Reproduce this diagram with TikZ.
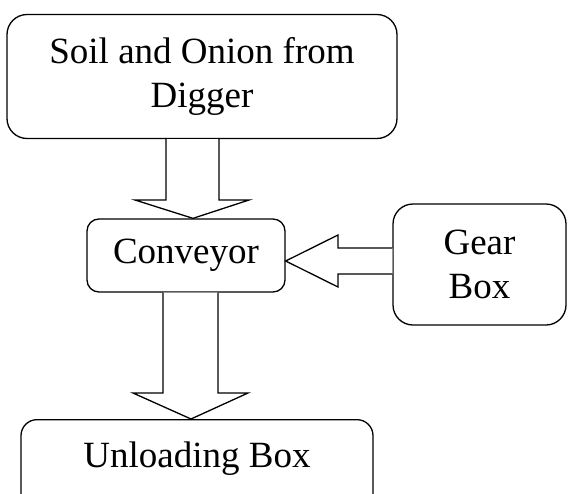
\documentclass[tikz,border=0pt]{standalone}
\usepackage{fontspec}
\setmainfont{Liberation Serif}
\usetikzlibrary{calc}
\begin{document}
\begin{tikzpicture}[x=1pt,y=-1pt,
  box/.style={draw, line width=1.3pt, align=center, inner sep=0pt,
    font=\fontsize{37}{44}\selectfont},
  blockarrow/.style={draw, line width=1.3pt, fill=white, line join=miter}]
\useasboundingbox (0,0) rectangle (568,493);
\clip (0,0) rectangle (568,493);

% process boxes
\node[box, rounded corners=20pt, minimum width=390pt, minimum height=124pt]
  (src) at (202,76.5) {Soil and Onion from\\Digger};
\node[box, rounded corners=12pt, minimum width=198pt, minimum height=73pt]
  (conv) at (186,255.5) {Conveyor};
\node[box, rounded corners=20pt, minimum width=173pt, minimum height=121pt]
  (gear) at (479.5,264.5) {Gear\\Box};
\node[box, rounded corners=16pt, minimum width=352pt, text height=48pt, text depth=53pt,
  anchor=north] (unload) at (197,419) {Unloading Box};

% hollow block arrows
\draw[blockarrow] (src.south -| 166,0) -- (166,200) -- (135,200)
  -- (conv.north -| 193,0) -- (249,200) -- (219,200) -- (src.south -| 219,0);
\draw[blockarrow] (gear.west |- 0,248) -- (338,248) -- (338,235)
  -- (conv.east |- 0,261) -- (338,287) -- (338,274) -- (gear.west |- 0,274);
\draw[blockarrow] (conv.south -| 163,0) -- (163,393) -- (133,393)
  -- (unload.north -| 191,0) -- (248,393) -- (218,393) -- (conv.south -| 218,0);
\end{tikzpicture}
\end{document}
